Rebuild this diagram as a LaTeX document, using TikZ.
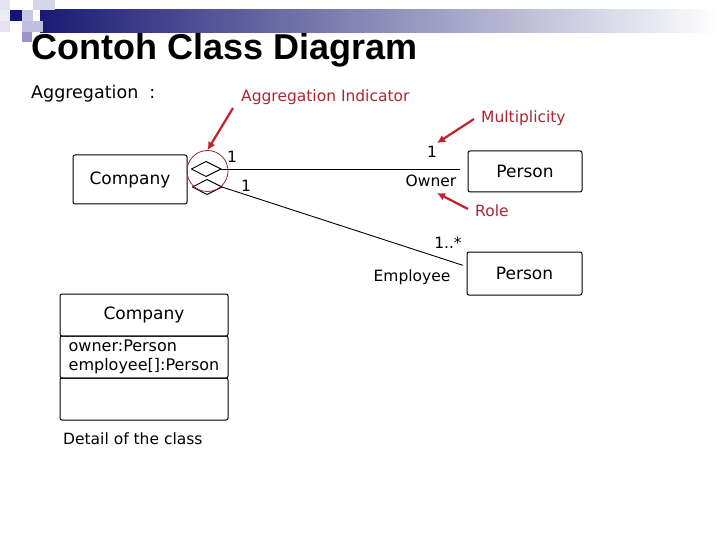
\documentclass[tikz,border=0pt]{standalone}
\usepackage{fontspec}
\setmainfont{DejaVu Sans}
\newfontfamily\titlefont{Liberation Sans}
\usetikzlibrary{shapes.geometric,arrows.meta}
\definecolor{navy}{RGB}{26,26,116}
\definecolor{labelred}{RGB}{172,38,50}
\definecolor{arrowred}{RGB}{196,32,40}
\definecolor{circlered}{RGB}{160,40,52}
\tikzset{
  classbox/.style={draw, line width=1pt, rounded corners=2pt, inner sep=0pt, font=\fontsize{17}{20}\selectfont},
  aggdiamond/.style={draw, line width=0.9pt, line join=miter},
  assoc/.style={draw, line width=0.9pt},
  plain/.style={inner sep=0pt, font=\fontsize{15.5}{18}\selectfont},
  redlabel/.style={inner sep=0pt, text=labelred, font=\fontsize{15.5}{18}\selectfont},
  redarrow/.style={draw=arrowred, line width=2.2pt, -{Latex[length=8pt,width=8pt]}},
  sq/.style={draw=none}
}
\begin{document}
\begin{tikzpicture}[x=1pt,y=-1pt]
\useasboundingbox (0,0) rectangle (720,540);
\fill[white] (0,0) rectangle (720,540);
% header decoration
\shade[left color=navy, right color=white] (40,10) rectangle (720,33);
\fill[sq, fill={rgb,255:red,228;green,228;blue,242}] (0,0) rectangle (10,10);
\fill[sq, fill={rgb,255:red,236;green,236;blue,246}] (0,10) rectangle (10,21);
\fill[sq, fill={rgb,255:red,226;green,226;blue,240}] (0,21) rectangle (10,32);
\fill[sq, fill={rgb,255:red,212;green,212;blue,234}] (33,0) rectangle (55,10);
\fill[sq, fill={rgb,255:red,20;green,20;blue,120}] (10,10) rectangle (22,21);
\fill[sq, fill={rgb,255:red,200;green,200;blue,230}] (22,10) rectangle (33,21);
\fill[sq, fill={rgb,255:red,190;green,190;blue,224}] (22,21) rectangle (43,32);
\fill[sq, fill={rgb,255:red,150;green,150;blue,200}] (22,32) rectangle (32,42);
% title
\node[anchor=base west, inner sep=0pt, font=\titlefont\bfseries\fontsize{36}{40}\selectfont] (title) at (31,60) {Contoh Class Diagram};
\node[anchor=base west, inner sep=0pt, font=\fontsize{17.5}{20}\selectfont] (agg) at (31,99) {Aggregation\ \ :};
% top diagram
\node[classbox, minimum width=114pt, minimum height=49pt] (company) at (130,179.5) {Company};
\node[classbox, minimum width=114pt, minimum height=41pt] (person1) at (525,171.5) {Person};
\node[classbox, minimum width=115pt, minimum height=43pt] (person2) at (524.5,273.5) {Person};
% aggregation diamonds
\coordinate (d1w) at (191.5,169);
\coordinate (d1e) at (221,169);
\coordinate (d2w) at (192.5,187);
\coordinate (d2e) at (222,187);
\draw[aggdiamond] (d1w) -- (206,161.5) -- (d1e) -- (206,176.5) -- cycle;
\draw[aggdiamond] (d2w) -- (207,179.5) -- (d2e) -- (207,194.5) -- cycle;
\node[draw=circlered, circle, minimum size=41pt, inner sep=0pt, line width=0.8pt] (ind) at (207.5,171) {};
\draw[assoc, shorten >=8pt] (d1e) -- (d1e -| person1.west);
\draw[assoc, shorten >=4pt] (d2e) -- ([yshift=7pt]person2.west);
% multiplicities and roles
\node[plain] (m1) at (232,157) {1};
\node[plain] (m2) at (246,186) {1};
\node[plain] (m3) at (432,152) {1};
\node[plain] (owner) at (431,181) {Owner};
\node[plain] (m4) at (448,243) {1..*};
\node[plain] (employee) at (412,277) {Employee};
% red annotations
\node[redlabel, anchor=west] (indlabel) at (241,97) {Aggregation Indicator};
\node[redlabel, anchor=west] (multlabel) at (481,118) {Multiplicity};
\node[redlabel, anchor=west] (rolelabel) at (475,211) {Role};
\coordinate (a1s) at (233,108);
\coordinate (a2s) at (474,119);
\coordinate (a2e) at (437,143);
\coordinate (a3s) at (468,209);
\coordinate (a3e) at (437,193);
\draw[redarrow] (a1s) -- (ind.north);
\draw[redarrow] (a2s) -- (a2e);
\draw[redarrow] (a3s) -- (a3e);
% detail of the class
\node[classbox, minimum width=168pt, minimum height=42pt] (cname) at (144,315) {Company};
\node[classbox, minimum width=168pt, minimum height=42pt, align=left, font=\fontsize{16}{19}\selectfont] (cattr) at (144,357) {owner:Person\\employee[]:Person};
\node[classbox, minimum width=168pt, minimum height=42pt] (cops) at (144,399) {};
\node[plain, anchor=west] (detail) at (63,439) {Detail of the class};
\end{tikzpicture}
\end{document}
